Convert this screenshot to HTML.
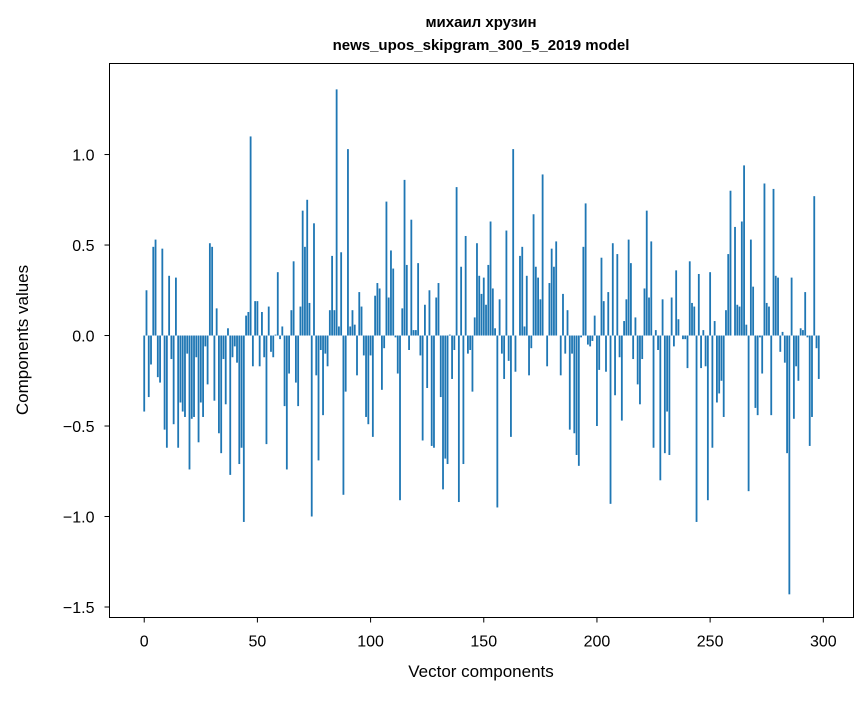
<!DOCTYPE html>
<html><head><meta charset="utf-8"><style>
body{margin:0;background:#fff}
svg text{font-family:"Liberation Sans","DejaVu Sans",sans-serif;fill:#000}
</style></head><body>
<svg id="chart" width="867" height="696" xmlns="http://www.w3.org/2000/svg">
<rect width="867" height="696" fill="#fff"/>
<text x="481" y="27" text-anchor="middle" font-size="15" font-weight="bold">михаил хрузин</text>
<text x="481" y="50" text-anchor="middle" font-size="15" font-weight="bold">news_upos_skipgram_300_5_2019 model</text>
<g id="bars"></g>
<g id="xticks"></g>
<g id="yticks"></g>
<rect x="109.5" y="63.5" width="744" height="554" fill="none" stroke="#000" stroke-width="1"/>
<text x="481" y="677" text-anchor="middle" font-size="17">Vector components</text>
<text transform="translate(28,340) rotate(-90)" text-anchor="middle" font-size="17">Components values</text>
</svg>
<script>
const values = [
-0.42,0.25,-0.34,-0.16,0.49,0.53,-0.23,-0.26,0.48,-0.52,
-0.62,0.33,-0.13,-0.49,0.32,-0.62,-0.37,-0.42,-0.45,-0.1,
-0.74,-0.46,-0.45,-0.12,-0.59,-0.37,-0.45,-0.06,-0.27,0.51,
0.49,-0.36,0.15,-0.54,-0.65,-0.13,-0.38,0.04,-0.77,-0.12,
-0.06,-0.15,-0.71,-0.62,-1.03,0.11,0.13,1.1,-0.17,0.19,
0.19,
-0.17,0.13,-0.12,-0.6,0.16,-0.09,-0.12,0.005,0.35,-0.02,
0.05,-0.39,-0.74,-0.21,0.14,0.41,-0.26,-0.39,0.16,0.69,
0.49,0.75,0.18,-1.0,0.62,-0.22,-0.69,-0.08,-0.44,-0.1,
-0.17,0.14,0.44,0.14,1.36,0.05,0.46,-0.88,-0.31,1.03,
0.05,0.14,0.06,-0.22,0.24,0.16,-0.11,-0.45,-0.49,-0.11,
-0.56,0.22,0.29,0.26,-0.3,-0.07,0.74,0.21,0.47,0.37,
-0.01,-0.21,-0.91,0.15,0.86,0.39,-0.08,0.64,0.03,0.03,
0.4,-0.11,-0.58,0.17,-0.29,0.25,-0.61,-0.62,0.21,0.29,
-0.34,-0.85,-0.68,-0.71,0.005,-0.24,-0.08,0.82,-0.92,0.38,
-0.71,0.55,-0.1,-0.08,-0.31,0.1,
0.51,0.33,0.23,0.32,0.17,0.39,0.63,0.26,0.04,-0.95,
0.2,-0.1,-0.24,0.58,-0.14,-0.56,1.03,-0.2,0.0,0.44,
0.49,0.05,0.33,-0.22,-0.07,0.67,0.38,0.32,0.2,0.89,
0,-0.17,0.29,0.48,0.38,0.52,0,-0.22,0.23,-0.1,
0.14,-0.52,-0.1,-0.54,-0.66,-0.72,-0.01,0.49,0.73,-0.05,
-0.06,-0.03,0.11,
-0.5,-0.19,0.43,0.19,-0.2,0.24,-0.93,0.51,-0.33,0.45,
-0.12,-0.47,0.08,0.2,0.53,0.4,-0.13,0.1,-0.27,-0.38,
-0.13,0.26,0.69,0.21,0.52,-0.62,0.03,-0.08,-0.8,0.2,
-0.65,-0.42,-0.66,0.21,-0.06,0.36,0.09,0.0,-0.02,-0.02,
-0.18,0.41,0.18,0.16,-1.03,0.34,-0.18,0.03,-0.17,-0.91,
0.35,
-0.62,0.08,-0.37,-0.32,-0.25,-0.45,0.14,0.45,0.8,0.0,
0.6,0.17,0.16,0.63,0.94,0.06,-0.86,0.53,0.27,-0.4,
-0.44,-0.01,-0.21,0.84,0.18,0.16,-0.44,0.81,0.33,0.32,
-0.09,0.02,-0.15,-0.65,-1.43,0.32,-0.46,-0.17,-0.25,0.04,
0.03,0.24,-0.01,-0.61,-0.45,0.77,-0.07,-0.24
];
const xTickValues = [0,50,100,150,200,250,300];
const xTickLabels = ["0","50","100","150","200","250","300"];
const yTickValues = [-1.5,-1.0,-0.5,0.0,0.5,1.0];
const yTickLabels = ["\u22121.5","\u22121.0","\u22120.5","0.0","0.5","1.0"];

const NS="http://www.w3.org/2000/svg";
const PX0=109.5, PX1=853.5, PY0=63.5, PY1=617.5;
const n=values.length;
const xmin=-0.4-0.05*(n-1+0.8), xmax=(n-1)+0.4+0.05*(n-1+0.8);
const ymin=-1.558, ymax=1.503;
function xs(v){return PX0+(v-xmin)/(xmax-xmin)*(PX1-PX0);}
function ys(v){return PY1-(v-ymin)/(ymax-ymin)*(PY1-PY0);}
const bars=document.getElementById('bars');
values.forEach((v,i)=>{
  const r=document.createElementNS(NS,'rect');
  const x0=xs(i-0.4), x1=xs(i+0.4);
  const y0=ys(Math.max(v,0)), y1=ys(Math.min(v,0));
  r.setAttribute('x',x0);r.setAttribute('width',x1-x0);
  r.setAttribute('y',y0);r.setAttribute('height',Math.max(y1-y0,0.01));
  r.setAttribute('fill','#1f77b4');
  
  
  bars.appendChild(r);
});
const xg=document.getElementById('xticks');
xTickValues.forEach((t,i)=>{
  const x=xs(t);
  const l=document.createElementNS(NS,'line');
  l.setAttribute('x1',x);l.setAttribute('x2',x);l.setAttribute('y1',PY1);l.setAttribute('y2',PY1+5);
  l.setAttribute('stroke','#000');
  
  
  xg.appendChild(l);
  const tx=document.createElementNS(NS,'text');
  tx.setAttribute('x',x);tx.setAttribute('y',PY1+29);tx.setAttribute('text-anchor','middle');tx.setAttribute('font-size','16');
  tx.textContent=xTickLabels[i];
  
  
  xg.appendChild(tx);
});
const yg=document.getElementById('yticks');
yTickValues.forEach((t,i)=>{
  const y=ys(t);
  const l=document.createElementNS(NS,'line');
  l.setAttribute('x1',PX0-5);l.setAttribute('x2',PX0);l.setAttribute('y1',y);l.setAttribute('y2',y);
  l.setAttribute('stroke','#000');
  
  
  yg.appendChild(l);
  const tx=document.createElementNS(NS,'text');
  tx.setAttribute('x',PX0-15);tx.setAttribute('y',y+6);tx.setAttribute('text-anchor','end');tx.setAttribute('font-size','16');
  tx.textContent=yTickLabels[i];
  
  
  yg.appendChild(tx);
});
</script>
</body></html>
